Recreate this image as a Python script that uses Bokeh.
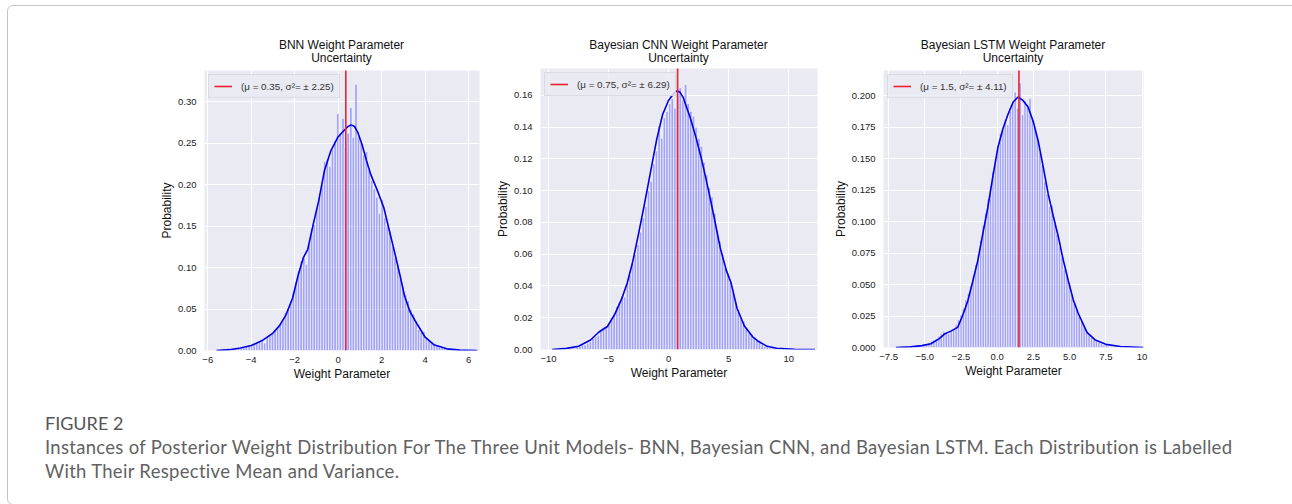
import numpy as np
from bokeh.plotting import figure
from bokeh.models import Range1d, FixedTicker, Div, Legend, LegendItem
from bokeh.layouts import row, column
from bokeh.embed import file_html
from bokeh.resources import INLINE

# ---------------- data ----------------
bnn_title = ["BNN Weight Parameter", "Uncertainty"]
bnn_legend = "(\u03bc = 0.35, \u03c3\u00b2= \u00b1 2.25)"
bnn_mean = 0.35
bnn_bin_start = -5.6
bnn_bin_width = 0.12
bnn_heights = [
    0.000, 0.000, 0.001, 0.000, 0.001, 0.001, 0.002, 0.002, 0.003, 0.003,
    0.004, 0.005, 0.006, 0.007, 0.008, 0.010, 0.011, 0.013, 0.009, 0.017,
    0.019, 0.022, 0.025, 0.028, 0.032, 0.037, 0.046, 0.051, 0.060, 0.070,
    0.083, 0.095, 0.108, 0.112, 0.104, 0.128, 0.147, 0.152, 0.172, 0.185,
    0.200, 0.228, 0.231, 0.222, 0.242, 0.253, 0.286, 0.262, 0.280, 0.245,
    0.262, 0.293, 0.257, 0.321, 0.258, 0.250, 0.236, 0.240, 0.218, 0.205,
    0.195, 0.185, 0.165, 0.182, 0.160, 0.150, 0.142, 0.125, 0.112, 0.103,
    0.090, 0.077, 0.068, 0.060, 0.050, 0.044, 0.036, 0.025, 0.022, 0.023,
    0.016, 0.012, 0.010, 0.008, 0.006, 0.005, 0.004, 0.003, 0.002, 0.002,
    0.001, 0.001, 0.001, 0.000, 0.000, 0.001, 0.000, 0.000, 0.000, 0.000,
]
bnn_kde_x = [-5.6, -5.0, -4.5, -4.0, -3.5, -3.0, -2.7, -2.4, -2.1, -1.85, -1.6, -1.4,
             -1.15, -0.9, -0.63, -0.35, -0.02, 0.3, 0.45, 0.6, 0.75, 0.9, 1.1, 1.3, 1.5,
             1.8, 2.1, 2.35, 2.6, 2.85, 3.05, 3.3, 3.65, 4.0, 4.4, 5.0, 5.6, 6.4]
bnn_kde_y = [0.0, 0.001, 0.003, 0.006, 0.012, 0.021, 0.030, 0.043, 0.063, 0.090, 0.112, 0.122,
             0.152, 0.180, 0.217, 0.240, 0.257, 0.266, 0.270, 0.272, 0.270, 0.263, 0.248, 0.229, 0.212,
             0.193, 0.172, 0.145, 0.118, 0.090, 0.066, 0.047, 0.031, 0.016, 0.007, 0.002, 0.0005, 0.0]
bnn_xticks = [-6, -4, -2, 0, 2, 4, 6]
bnn_xtick_labels = ["\u22126", "\u22124", "\u22122", "0", "2", "4", "6"]
bnn_yticks = [0.00, 0.05, 0.10, 0.15, 0.20, 0.25, 0.30]
bnn_ytick_labels = ["0.00", "0.05", "0.10", "0.15", "0.20", "0.25", "0.30"]

cnn_title = ["Bayesian CNN Weight Parameter", "Uncertainty"]
cnn_legend = "(\u03bc = 0.75, \u03c3\u00b2= \u00b1 6.29)"
cnn_mean = 0.75
cnn_bin_start = -9.7
cnn_bin_width = 0.22
cnn_heights = [
    0.000, 0.000, 0.000, 0.000, 0.001, 0.000, 0.001, 0.001, 0.001, 0.002,
    0.002, 0.003, 0.003, 0.004, 0.005, 0.007, 0.008, 0.009, 0.012, 0.014,
    0.014, 0.016, 0.020, 0.023, 0.027, 0.030, 0.034, 0.033, 0.042, 0.047,
    0.054, 0.060, 0.066, 0.074, 0.083, 0.090, 0.100, 0.106, 0.117, 0.125,
    0.141, 0.133, 0.146, 0.150, 0.155, 0.158, 0.152, 0.161, 0.165, 0.157,
    0.167, 0.155, 0.150, 0.147, 0.140, 0.133, 0.128, 0.118, 0.110, 0.102,
    0.096, 0.086, 0.075, 0.068, 0.060, 0.052, 0.048, 0.043, 0.036, 0.030,
    0.024, 0.020, 0.018, 0.014, 0.011, 0.010, 0.008, 0.006, 0.005, 0.003,
    0.002, 0.002, 0.001, 0.001, 0.001, 0.000, 0.000, 0.001, 0.000, 0.000,
    0.000, 0.000, 0.000, 0.000, 0.000, 0.000, 0.000, 0.000, 0.000, 0.000,
]
cnn_kde_x = [-9.7, -8.5, -7.5, -6.5, -5.8, -5.1, -4.5, -3.9, -3.44, -3.0, -2.5, -2.0,
             -1.5, -1.0, -0.5, 0.0, 0.4, 0.7, 0.95, 1.2, 1.8, 2.3, 2.8, 3.3, 3.8, 4.3,
             4.8, 5.2, 5.7, 6.3, 7.0, 7.5, 8.2, 9.0, 10.5, 12.2]
cnn_kde_y = [0.0, 0.0007, 0.002, 0.006, 0.011, 0.0145, 0.022, 0.032, 0.042, 0.055, 0.073, 0.092,
             0.112, 0.132, 0.148, 0.157, 0.161, 0.163, 0.162, 0.159, 0.146, 0.133, 0.118, 0.101, 0.083, 0.064,
             0.050, 0.042, 0.026, 0.015, 0.008, 0.005, 0.002, 0.0008, 0.0002, 0.0]
cnn_xticks = [-10, -5, 0, 5, 10]
cnn_xtick_labels = ["\u221210", "\u22125", "0", "5", "10"]
cnn_yticks = [0.00, 0.02, 0.04, 0.06, 0.08, 0.10, 0.12, 0.14, 0.16]
cnn_ytick_labels = ["0.00", "0.02", "0.04", "0.06", "0.08", "0.10", "0.12", "0.14", "0.16"]

lstm_title = ["Bayesian LSTM Weight Parameter", "Uncertainty"]
lstm_legend = "(\u03bc = 1.5, \u03c3\u00b2= \u00b1 4.11)"
lstm_mean = 1.5
lstm_bin_start = -7.0
lstm_bin_width = 0.17
lstm_heights = [
    0.000, 0.000, 0.001, 0.000, 0.001, 0.001, 0.001, 0.001, 0.002, 0.002,
    0.002, 0.003, 0.003, 0.004, 0.005, 0.006, 0.007, 0.009, 0.011, 0.013,
    0.012, 0.011, 0.013, 0.015, 0.018, 0.022, 0.026, 0.031, 0.038, 0.043,
    0.049, 0.057, 0.066, 0.074, 0.085, 0.097, 0.107, 0.118, 0.128, 0.140,
    0.150, 0.160, 0.170, 0.173, 0.181, 0.177, 0.188, 0.195, 0.203, 0.190,
    0.210, 0.185, 0.196, 0.193, 0.198, 0.182, 0.176, 0.168, 0.155, 0.145,
    0.132, 0.122, 0.112, 0.113, 0.098, 0.090, 0.080, 0.072, 0.062, 0.058,
    0.050, 0.042, 0.035, 0.030, 0.025, 0.021, 0.017, 0.013, 0.010, 0.008,
    0.006, 0.005, 0.004, 0.003, 0.002, 0.002, 0.001, 0.001, 0.001, 0.001,
    0.000, 0.000, 0.000, 0.000, 0.000, 0.000, 0.000, 0.000, 0.000, 0.000,
]
lstm_kde_x = [-7.0, -6.0, -5.2, -4.58, -4.0, -3.6, -3.2, -2.73, -2.4, -2.03, -1.7, -1.34,
              -1.0, -0.65, -0.3, 0.05, 0.4, 0.74, 1.1, 1.44, 1.8, 2.13, 2.5, 2.83, 3.2,
              3.52, 3.9, 4.22, 4.55, 4.91, 5.25, 5.6, 6.2, 6.76, 7.5, 8.5, 10.1]
lstm_kde_y = [0.0, 0.0005, 0.0015, 0.003, 0.007, 0.011, 0.013, 0.016, 0.025, 0.037, 0.052, 0.069,
              0.090, 0.111, 0.136, 0.159, 0.174, 0.185, 0.195, 0.199, 0.196, 0.191, 0.179, 0.164, 0.142,
              0.122, 0.103, 0.088, 0.070, 0.053, 0.038, 0.027, 0.012, 0.006, 0.0025, 0.0008, 0.0]
lstm_xticks = [-7.5, -5.0, -2.5, 0.0, 2.5, 5.0, 7.5, 10.0]
lstm_xtick_labels = ["\u22127.5", "\u22125.0", "\u22122.5", "0.0", "2.5", "5.0", "7.5", "10"]
lstm_yticks = [0.000, 0.025, 0.050, 0.075, 0.100, 0.125, 0.150, 0.175, 0.200]
lstm_ytick_labels = ["0.000", "0.025", "0.050", "0.075", "0.100", "0.125", "0.150", "0.175", "0.200"]

x_label = "Weight Parameter"
y_label = "Probability"
caption_head = "FIGURE 2"
caption_line1 = ("Instances of Posterior Weight Distribution For The Three Unit Models- BNN, "
                 "Bayesian CNN, and Bayesian LSTM. Each Distribution is Labelled")
caption_line2 = "With Their Respective Mean and Variance."

# ---------------- styling ----------------
FONT = "Liberation Sans"
BG = "#eaeaf2"
RED = "#ee2233"
KDE_BLUE = "#0000e6"
TITLE_H = 60


def make_panel(title_lines, legend_label, mean, bin_start, bin_width, heights, kde_x, kde_y,
               xticks, xtick_labels, yticks, ytick_labels, xr, yr,
               frame_w, frame_h, b_left, b_right, b_top, b_bottom):
    p = figure(frame_width=frame_w, frame_height=frame_h,
               min_border_left=b_left, min_border_right=b_right,
               min_border_top=b_top, min_border_bottom=b_bottom,
               x_range=Range1d(*xr), y_range=Range1d(*yr),
               output_backend="svg", toolbar_location=None, title_location=None,
               background_fill_color=BG, border_fill_color="white",
               outline_line_color=None)

    n = len(heights)
    left = [bin_start + bin_width * i for i in range(n)]
    right = [bin_start + bin_width * (i + 1) for i in range(n)]
    p.quad(left=left, right=right, top=heights, bottom=0,
           fill_color="blue", fill_alpha=0.3, line_color="white", line_width=0.6)
    p.line(kde_x, kde_y, line_color=KDE_BLUE, line_width=1.6)
    r_mean = p.line([mean, mean], [0, 10], line_color=RED, line_width=1.6)

    leg = Legend(items=[LegendItem(label=legend_label, renderers=[r_mean])],
                 location="top_left", margin=4, padding=5, spacing=0,
                 glyph_width=18, glyph_height=12, label_standoff=9, label_height=12,
                 label_text_font=FONT, label_text_font_size="9.8px",
                 label_text_color="#333333",
                 background_fill_color=BG, background_fill_alpha=0.85,
                 border_line_color="#cccccc", border_line_width=1)
    p.add_layout(leg)

    p.xaxis.ticker = FixedTicker(ticks=xticks)
    p.yaxis.ticker = FixedTicker(ticks=yticks)
    p.xaxis.major_label_overrides = {t: l for t, l in zip(xticks, xtick_labels)}
    p.yaxis.major_label_overrides = {t: l for t, l in zip(yticks, ytick_labels)}
    p.xaxis.axis_label = x_label
    p.yaxis.axis_label = y_label
    for ax in (p.xaxis[0], p.yaxis[0]):
        ax.axis_line_color = None
        ax.major_tick_line_color = None
        ax.minor_tick_line_color = None
        ax.major_tick_out = 0
        ax.major_tick_in = 0
        ax.major_label_text_font = FONT
        ax.major_label_text_font_size = "9.5px"
        ax.major_label_text_color = "#222222"
        ax.axis_label_text_font = FONT
        ax.axis_label_text_font_size = "12px"
        ax.axis_label_text_font_style = "normal"
        ax.axis_label_text_color = "#111111"
    p.xaxis.major_label_standoff = 6
    p.yaxis.major_label_standoff = 8
    p.xaxis.axis_label_standoff = 1
    p.yaxis.axis_label_standoff = 1
    p.xgrid.grid_line_color = "white"
    p.ygrid.grid_line_color = "white"
    p.xgrid.grid_line_width = 1
    p.ygrid.grid_line_width = 1

    total_w = b_left + frame_w + b_right
    title_html = "<br>".join(title_lines)
    head = Div(text=(f'<div style="box-sizing:border-box; width:{total_w}px; '
                     f'padding:33px {b_right}px 0 {b_left}px; text-align:center; '
                     f'font-family:\'{FONT}\'; font-size:12px; line-height:13px; '
                     f'color:#111111; white-space:nowrap;">{title_html}</div>'),
               width=total_w, height=TITLE_H, styles={"margin": "0", "padding": "0"})
    return column(head, p, spacing=0)


p1 = make_panel(bnn_title, bnn_legend, bnn_mean, bnn_bin_start, bnn_bin_width, bnn_heights,
                bnn_kde_x, bnn_kde_y, bnn_xticks, bnn_xtick_labels, bnn_yticks, bnn_ytick_labels,
                (-6.15, 6.5), (0, 0.3375), 275, 280, 196, 6, 4, 45)
p2 = make_panel(cnn_title, cnn_legend, cnn_mean, cnn_bin_start, cnn_bin_width, cnn_heights,
                cnn_kde_x, cnn_kde_y, cnn_xticks, cnn_xtick_labels, cnn_yticks, cnn_ytick_labels,
                (-10.67, 12.4), (0, 0.177), 277, 281, 55, 11, 2, 46)
p3 = make_panel(lstm_title, lstm_legend, lstm_mean, lstm_bin_start, lstm_bin_width, lstm_heights,
                lstm_kde_x, lstm_kde_y, lstm_xticks, lstm_xtick_labels, lstm_yticks, lstm_ytick_labels,
                (-7.85, 10.1), (0, 0.22), 260, 277, 55, 146, 4, 48)

caption = Div(
    text=(f'<div style="font-family:Lato, \'Open Sans\', sans-serif; color:#626262; '
          f'font-size:18.5px; letter-spacing:0.3px; line-height:24px; margin-left:32px; '
          f'white-space:nowrap;">'
          f'<div style="color:#555555; font-size:18px; letter-spacing:0;">{caption_head}</div>'
          f'<div>{caption_line1}</div><div>{caption_line2}</div></div>'),
    width=1281, height=88, styles={"margin-top": "16px"})

layout = column(row(p1, p2, p3), caption,
                styles={"border": "1px solid #c4c4c4", "border-radius": "6px",
                        "margin-left": "7px", "margin-top": "5px"})

open("out.html", "w").write(file_html(layout, INLINE))
